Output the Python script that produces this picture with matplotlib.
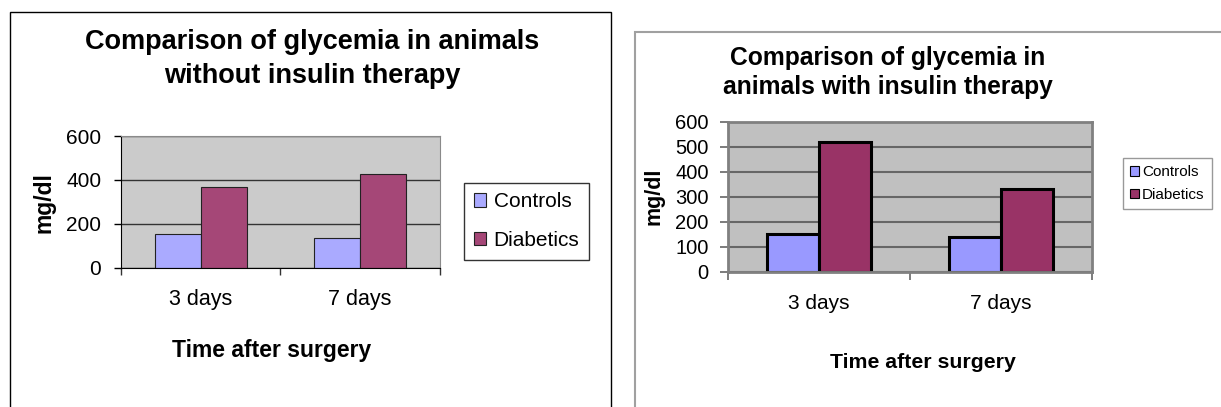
import matplotlib
matplotlib.use('Agg')
import matplotlib.pyplot as plt
import numpy as np
from matplotlib.patches import Rectangle

plt.rcParams['font.family'] = ['Liberation Sans', 'DejaVu Sans']

# datos
categorias = ['3 days', '7 days']
series = ['Controls', 'Diabetics']

# sin insulina [3 days, 7 days]
sin_controles = [152, 135]
sin_diabeticos = [369, 425]

# con insulina [3 days, 7 days]
con_controles = [151, 139]
con_diabeticos = [517, 329]

W, H = 1221, 407
fig = plt.figure(figsize=(W / 100, H / 100), dpi=100)


def caja(x0, y0, x1, y1):
    # pixeles (origen arriba-izquierda) -> coordenadas de figura
    return [x0 / W, 1 - y1 / H, (x1 - x0) / W, (y1 - y0) / H]


# marcos de cada grafica
fig.patches.append(Rectangle((10 / W, -0.05), 601 / W, 1.05 - 12 / H, transform=fig.transFigure,
                             fill=False, edgecolor='black', lw=1.0))
fig.patches.append(Rectangle((635 / W, -0.05), 0.5, 1.05 - 32 / H, transform=fig.transFigure,
                             fill=False, edgecolor='#a0a0a0', lw=1.5))

x = np.arange(len(categorias))
width = 0.288

# ---------------- grafica izquierda ----------------
ax1 = fig.add_axes(caja(120.7, 136, 440, 267.7))
ax1.set_facecolor('#cbcbcb')
ax1.bar(x - width / 2, sin_controles, width, color='#aaaaff', edgecolor='#222222', lw=0.8, label=series[0])
ax1.bar(x + width / 2, sin_diabeticos, width, color='#a54777', edgecolor='#222222', lw=0.8, label=series[1])
ax1.set_xlim(-0.5, 1.5)
ax1.set_ylim(0, 600)
ax1.set_yticks([0, 200, 400, 600])
ax1.yaxis.grid(True, color='#333333', lw=1.0)
ax1.set_axisbelow(True)
ax1.set_xticks(x, categorias)
ax1.set_xticks([-0.5, 0.5, 1.5], minor=True)
ax1.tick_params(axis='x', which='major', length=0, pad=15.5, labelsize=15.5)
ax1.tick_params(axis='x', which='minor', length=5, width=1, color='#333333')
ax1.tick_params(axis='y', length=5, width=1, pad=9, labelsize=15)
for s in ['top', 'right']:
    ax1.spines[s].set_color('#8a8a8a')
for s in ['left', 'bottom']:
    ax1.spines[s].set_color('black')
leg1 = ax1.legend(loc='upper left', bbox_to_anchor=(464.3 / W, 1 - 183 / H), bbox_transform=fig.transFigure,
                  fontsize=15, frameon=True, fancybox=False, edgecolor='black', borderaxespad=0,
                  borderpad=0.45, handlelength=0.6, handleheight=0.6, handletextpad=0.36, labelspacing=0.95)
leg1.get_frame().set_linewidth(1.0)

fig.text(312 / W, 1 - 49.3 / H, 'Comparison of glycemia in animals', ha='center', va='baseline',
         fontsize=19.5, fontweight='bold')
fig.text(312 / W, 1 - 82.7 / H, 'without insulin therapy', ha='center', va='baseline',
         fontsize=19.5, fontweight='bold')
fig.text(44 / W, 1 - 203 / H, 'mg/dl', rotation=90, ha='center', va='center', fontsize=16.5, fontweight='bold')
fig.text(272 / W, 1 - 356.7 / H, 'Time after surgery', ha='center', va='baseline', fontsize=16.5, fontweight='bold')

# ---------------- grafica derecha ----------------
ax2 = fig.add_axes(caja(728.3, 121.7, 1091.7, 271.7))
ax2.set_facecolor('#c0c0c0')
ax2.bar(x - width / 2, con_controles, width, color='#9999ff', edgecolor='black', lw=2.2, label=series[0])
ax2.bar(x + width / 2, con_diabeticos, width, color='#993366', edgecolor='black', lw=2.2, label=series[1])
ax2.set_xlim(-0.5, 1.5)
ax2.set_ylim(0, 600)
ax2.set_yticks(np.arange(0, 601, 100))
ax2.yaxis.grid(True, color='#666666', lw=1.5)
ax2.set_axisbelow(True)
ax2.set_xticks(x, categorias)
ax2.set_xticks([-0.5, 0.5, 1.5], minor=True)
ax2.tick_params(axis='x', which='major', length=0, pad=16, labelsize=15)
ax2.tick_params(axis='x', which='minor', length=6, width=1.2, color='#666666')
ax2.tick_params(axis='y', length=6, width=1.2, color='#666666', pad=8, labelsize=14.5)
for s in ax2.spines.values():
    s.set_color('#808080')
    s.set_linewidth(2)
leg2 = ax2.legend(loc='upper left', bbox_to_anchor=(1122.7 / W, 1 - 157.7 / H), bbox_transform=fig.transFigure,
                  fontsize=11, frameon=True, fancybox=False, edgecolor='#808080', borderaxespad=0,
                  borderpad=0.5, handlelength=0.55, handleheight=0.55, handletextpad=0.2, labelspacing=0.55)
leg2.get_frame().set_linewidth(1.0)
for h in leg2.legend_handles:
    h.set_linewidth(0.8)

fig.text(888 / W, 1 - 65 / H, 'Comparison of glycemia in', ha='center', va='baseline',
         fontsize=17.7, fontweight='bold')
fig.text(888 / W, 1 - 94 / H, 'animals with insulin therapy', ha='center', va='baseline',
         fontsize=17.7, fontweight='bold')
fig.text(654 / W, 1 - 196.5 / H, 'mg/dl', rotation=90, ha='center', va='center', fontsize=15.5, fontweight='bold')
fig.text(922.7 / W, 1 - 368 / H, 'Time after surgery', ha='center', va='baseline', fontsize=15.3, fontweight='bold')

plt.savefig('out.png', dpi=100)
